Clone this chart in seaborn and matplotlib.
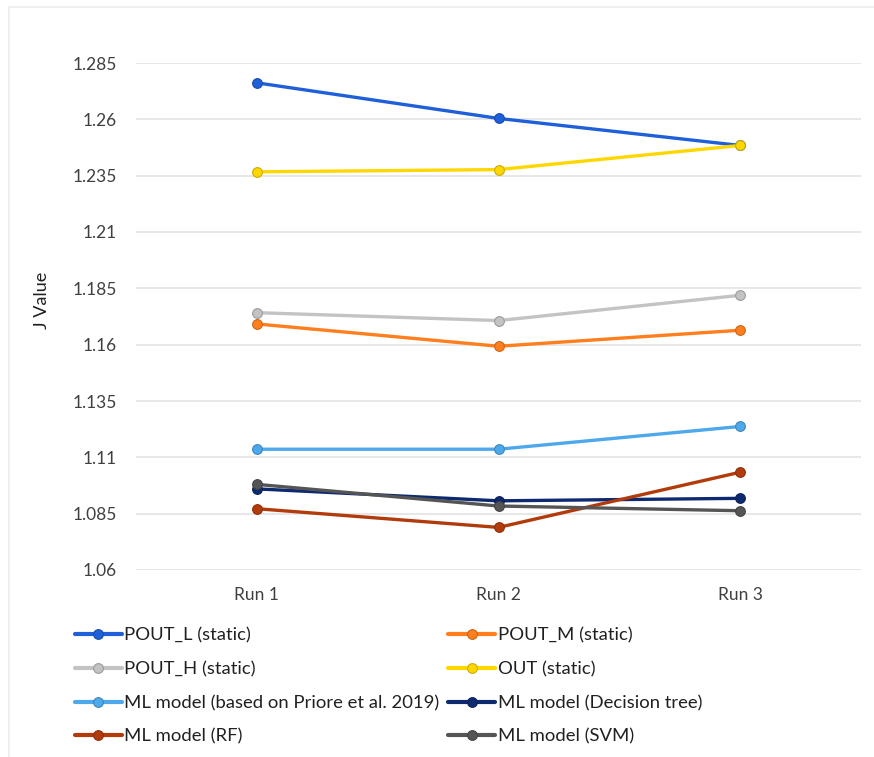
import matplotlib
matplotlib.use("Agg")
import matplotlib.pyplot as plt
import matplotlib.colors as mcolors
from matplotlib.lines import Line2D
import seaborn as sns
import pandas as pd

runs = ["Run 1", "Run 2", "Run 3"]

pout_l = [1.2762, 1.2604, 1.2484]
pout_m = [1.1692, 1.1593, 1.1664]
pout_h = [1.1742, 1.1707, 1.1819]
out_static = [1.2367, 1.2377, 1.2484]
ml_priore = [1.1136, 1.1136, 1.1237]
ml_tree = [1.0960, 1.0907, 1.0918]
ml_rf = [1.0872, 1.0789, 1.1034]
ml_svm = [1.0980, 1.0884, 1.0863]

series_names = [
    "POUT_L (static)",
    "POUT_M (static)",
    "POUT_H (static)",
    "OUT (static)",
    "ML model (based on Priore et al. 2019)",
    "ML model (Decision tree)",
    "ML model (RF)",
    "ML model (SVM)",
]
series_values = [pout_l, pout_m, pout_h, out_static, ml_priore, ml_tree, ml_rf, ml_svm]
series_colors = ["#1F5FD8", "#FF7E1E", "#C3C3C3", "#FFD700",
                 "#4EA8EC", "#0D2A70", "#B23B0C", "#555555"]

yticks = [1.06, 1.085, 1.11, 1.135, 1.16, 1.185, 1.21, 1.235, 1.26, 1.285]

rows = []
for name, vals in zip(series_names, series_values):
    for run, v in zip(runs, vals):
        rows.append({"Run": run, "J Value": v, "Series": name})
df = pd.DataFrame(rows)

sns.set_theme(style="white")
plt.rcParams["font.family"] = ["Lato", "DejaVu Sans"]

fig = plt.figure(figsize=(8.74, 7.57), dpi=100)
ax = fig.add_axes([136 / 874, 1 - 570 / 757, (861 - 136) / 874, (570 - 63) / 757])

palette = dict(zip(series_names, series_colors))
sns.lineplot(data=df, x="Run", y="J Value", hue="Series", hue_order=series_names,
             palette=palette, marker="o", markersize=7, linewidth=2.4,
             sort=False, legend=False, ax=ax)

for line, col in zip(ax.lines, series_colors):
    edge = tuple(c * 0.8 for c in mcolors.to_rgb(col))
    line.set_markeredgecolor(edge)
    line.set_markeredgewidth(0.8)
    line.set_solid_capstyle("round")

ax.set_xlim(-0.5, 2.5)
ax.set_ylim(1.06, 1.285)
ax.set_yticks(yticks)
ax.set_yticklabels([f"{t:g}" for t in yticks])
ax.yaxis.grid(True, color="#E3E3E3", linewidth=1.2)
ax.set_axisbelow(True)
for s in ax.spines.values():
    s.set_visible(False)
ax.tick_params(axis="both", length=0, labelsize=12.5, colors="#404040")
ax.tick_params(axis="y", pad=14)
ax.tick_params(axis="x", pad=12)
ax.set_xlabel("")
ax.set_ylabel("J Value", fontsize=13, color="#202020")
ax.yaxis.set_label_coords((50 - 136) / 725, (570 - 300) / 507)

# legend laid out in two columns, row-wise order
handles = []
for name, col in zip(series_names, series_colors):
    edge = tuple(c * 0.8 for c in mcolors.to_rgb(col))
    handles.append(Line2D([], [], color=col, linewidth=3, marker="o", markersize=7,
                          markeredgecolor=edge, markeredgewidth=0.8, label=name))
order = [0, 2, 4, 6, 1, 3, 5, 7]
leg = fig.legend([handles[i] for i in order], [series_names[i] for i in order],
                 ncol=2, loc="upper left", bbox_to_anchor=(58 / 874, 1 - 611 / 757),
                 frameon=False, fontsize=13.3, handlelength=2.55, handletextpad=0.15,
                 columnspacing=0.45, labelspacing=0.95, labelcolor="#202020")

# chart frame edges
fig.add_artist(Line2D([9 / 874, 9 / 874], [0, 1 - 7 / 757], color="#ECECEC", linewidth=1.2,
                      transform=fig.transFigure))
fig.add_artist(Line2D([9 / 874, 1], [1 - 7 / 757, 1 - 7 / 757], color="#ECECEC", linewidth=1.2,
                      transform=fig.transFigure))

fig.savefig("out.png", dpi=100, facecolor="white")
